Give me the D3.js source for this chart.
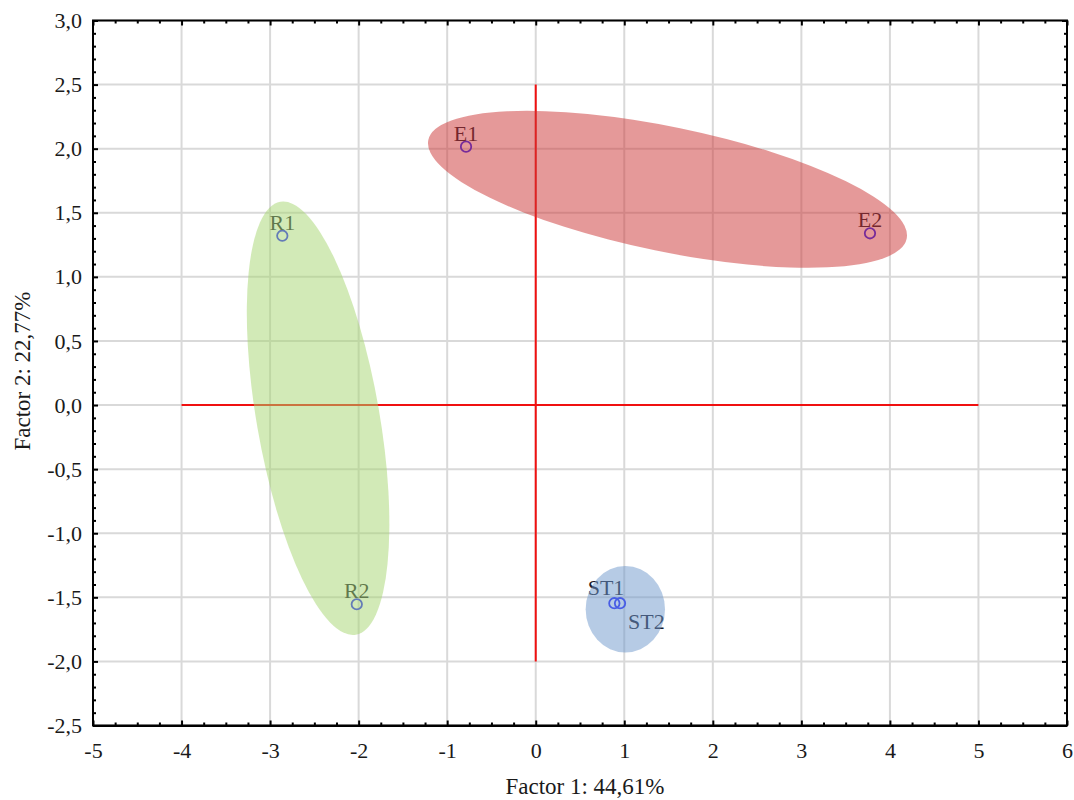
<!DOCTYPE html>
<html><head><meta charset="utf-8">
<script src="https://cdn.jsdelivr.net/npm/d3@7"></script>
<style>
html,body{margin:0;padding:0;background:#fff;}
svg text{font-family:"Liberation Serif","Times New Roman",serif;}
</style></head>
<body><svg id="c" width="1074" height="800"></svg>
<script>
// ---- data ----
const xTicks = [-5,-4,-3,-2,-1,0,1,2,3,4,5,6];
const yTicks = [-2.5,-2.0,-1.5,-1.0,-0.5,0.0,0.5,1.0,1.5,2.0,2.5,3.0];
const pointLabels = ["E1","E2","R1","R2","ST1","ST2"];
const factor1 = [-0.787, 3.775, -2.862, -2.021, 0.888, 0.952];
const factor2 = [2.016, 1.340, 1.321, -1.554, -1.546, -1.546];
const groupNames = ["E","R","ST"];
const groupCenterX = [1.488, -2.458, 1.012];
const groupCenterY = [1.683, -0.103, -1.593];
const groupSemiMajor = [2.758, 2.481, 0.488];   // in Factor 1 units
const groupSemiMinor = [0.704, 0.693, 0.448];   // in Factor 1 units
const groupAngle = [11.65, 80.1, 90];            // degrees
const xTitle = "Factor 1: 44,61%";
const yTitle = "Factor 2: 22,77%";
const hLine = {x0:-4, x1:5, y:0};
const vLine = {x:0, y0:-2, y1:2.5};

// ---- styles ----
const groupFill = ["rgba(204,51,51,0.5)","rgba(165,213,112,0.5)","rgba(110,152,204,0.5)"];
const labelOffset = {E1:[0,-6,"middle"],E2:[0,-6,"middle"],R1:[0,-6,"middle"],R2:[0,-6,"middle"],ST1:[10,-8,"end"],ST2:[8,26,"start"]};

const svg = d3.select("#c");
const L=93,R=1067,T=20.5,B=725.5;
const x = d3.scaleLinear().domain([-5,6]).range([L,R]);
const y = d3.scaleLinear().domain([-2.5,3]).range([B,T]);
const loc = d3.formatLocale({decimal:",",thousands:" ",grouping:[3],currency:["",""],minus:"-"});
const fy = loc.format(".1f");

// grid
const grid = svg.append("g").attr("stroke","#d9d9d9").attr("stroke-width",2);
grid.selectAll(".gx").data(xTicks).join("line")
  .attr("x1",d=>x(d)).attr("x2",d=>x(d)).attr("y1",T).attr("y2",B);
grid.selectAll(".gy").data(yTicks).join("line")
  .attr("y1",d=>y(d)).attr("y2",d=>y(d)).attr("x1",L).attr("x2",R);

// red reference lines
const red = svg.append("g").attr("stroke","#f01010").attr("stroke-width",2);
red.append("line").attr("x1",x(hLine.x0)).attr("x2",x(hLine.x1)).attr("y1",y(hLine.y)).attr("y2",y(hLine.y));
red.append("line").attr("x1",x(vLine.x)).attr("x2",x(vLine.x)).attr("y1",y(vLine.y0)).attr("y2",y(vLine.y1));

// points & labels
const pts = pointLabels.map((n,i)=>({n, fx:factor1[i], fy:factor2[i]}));
svg.append("g").selectAll("circle").data(pts).join("circle")
  .attr("cx",d=>x(d.fx)).attr("cy",d=>y(d.fy)).attr("r",5.2)
  .attr("fill","none").attr("stroke","#2222ff").attr("stroke-width",1.8);
svg.append("g").selectAll("text").data(pts).join("text")
  .attr("x",d=>x(d.fx)+labelOffset[d.n][0]).attr("y",d=>y(d.fy)+labelOffset[d.n][1])
  .attr("text-anchor",d=>labelOffset[d.n][2])
  .attr("font-size",22).attr("fill","#1a1a2a").text(d=>d.n);

// ellipses
const kx = x(1)-x(0);
const ells = groupNames.map((g,i)=>({g,i}));
svg.append("g").selectAll("ellipse").data(ells).join("ellipse")
  .attr("cx",0).attr("cy",0)
  .attr("rx",d=>groupSemiMajor[d.i]*kx).attr("ry",d=>groupSemiMinor[d.i]*kx)
  .attr("transform",d=>`translate(${x(groupCenterX[d.i])},${y(groupCenterY[d.i])}) rotate(${groupAngle[d.i]})`)
  .attr("fill",d=>groupFill[d.i]);

// axes (ticks inward)
const minorX = d3.range(-5,6.001,0.25).filter(v=>Math.abs(v-Math.round(v))>1e-6);
const minorY = d3.range(-2.5,3.001,0.1).filter(v=>Math.abs(v*2-Math.round(v*2))>1e-6);
function styleAxis(g){g.select(".domain").remove();g.selectAll(".tick line").attr("stroke","#000").attr("stroke-width",2);
  g.selectAll("text").attr("font-size",22).attr("fill","#1a1a1a").attr("font-family","Liberation Serif, serif");}
svg.append("g").attr("transform",`translate(0,${B})`)
  .call(d3.axisBottom(x).tickValues(xTicks).tickSize(-5).tickPadding(17).tickFormat(d=>loc.format("d")(d))).call(styleAxis);
svg.append("g").attr("transform",`translate(0,${B})`)
  .call(d3.axisBottom(x).tickValues(minorX).tickSize(-3).tickFormat("")).call(styleAxis);
svg.append("g").attr("transform",`translate(0,${T})`)
  .call(d3.axisTop(x).tickValues(xTicks).tickSize(-5).tickFormat("")).call(styleAxis);
svg.append("g").attr("transform",`translate(0,${T})`)
  .call(d3.axisTop(x).tickValues(minorX).tickSize(-3).tickFormat("")).call(styleAxis);
svg.append("g").attr("transform",`translate(${L},0)`)
  .call(d3.axisLeft(y).tickValues(yTicks).tickSize(-5).tickPadding(11).tickFormat(fy)).call(styleAxis);
svg.append("g").attr("transform",`translate(${L},0)`)
  .call(d3.axisLeft(y).tickValues(minorY).tickSize(-3).tickFormat("")).call(styleAxis);
svg.append("g").attr("transform",`translate(${R},0)`)
  .call(d3.axisRight(y).tickValues(yTicks).tickSize(-5).tickFormat("")).call(styleAxis);
svg.append("g").attr("transform",`translate(${R},0)`)
  .call(d3.axisRight(y).tickValues(minorY).tickSize(-3).tickFormat("")).call(styleAxis);

// frame
svg.append("rect").attr("x",L).attr("y",T).attr("width",R-L).attr("height",B-T)
  .attr("fill","none").attr("stroke","#000").attr("stroke-width",2);
svg.append("line").attr("x1",L).attr("x2",R).attr("y1",B+0.5).attr("y2",B+0.5).attr("stroke","#000").attr("stroke-width",2);

// titles
svg.append("text").attr("x",585).attr("y",794).attr("text-anchor","middle")
  .attr("font-size",23).attr("fill","#1a1a1a").text(xTitle);
svg.append("text").attr("transform",`translate(30,371) rotate(-90)`).attr("text-anchor","middle")
  .attr("font-size",23).attr("fill","#1a1a1a").text(yTitle);
</script></body></html>
